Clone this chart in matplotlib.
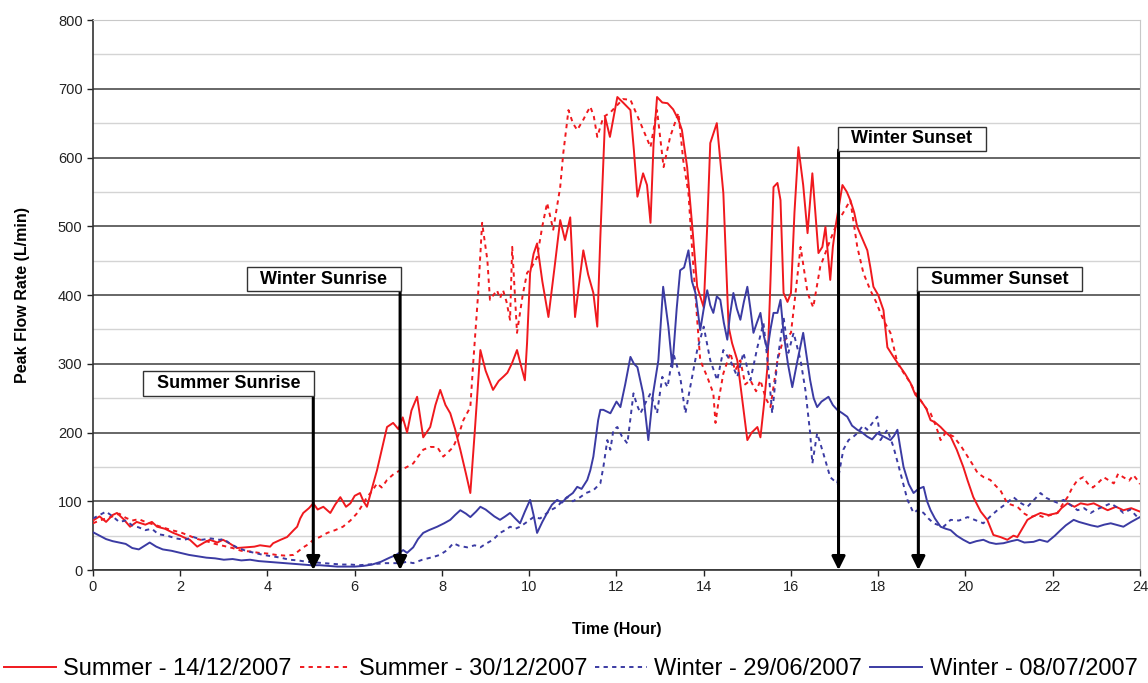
import matplotlib
matplotlib.use("Agg")
import matplotlib.pyplot as plt
from matplotlib.ticker import MultipleLocator

plt.rcParams["font.family"] = ["Liberation Sans", "DejaVu Sans"]

# (hour, peak flow L/min) readings per day
summer_1412 = [
    (0, 72), (0.15, 78), (0.3, 70), (0.45, 80), (0.55, 83), (0.7, 74), (0.85, 63), (1.0, 70),
    (1.2, 66), (1.35, 70), (1.47, 63), (1.65, 60), (1.84, 54), (2.0, 50), (2.1, 47), (2.22, 44),
    (2.39, 34), (2.55, 40), (2.68, 44), (2.85, 40), (2.98, 44), (3.15, 38), (3.3, 32), (3.5, 33),
    (3.7, 34), (3.83, 36), (4.06, 34), (4.13, 39), (4.3, 44), (4.45, 48), (4.6, 58), (4.68, 63),
    (4.75, 75), (4.82, 83), (4.95, 90), (5.05, 97), (5.15, 88), (5.28, 92), (5.44, 83), (5.55, 95),
    (5.67, 106), (5.8, 92), (5.9, 97), (6.0, 108), (6.12, 112), (6.2, 100), (6.28, 92), (6.4, 120),
    (6.51, 145), (6.62, 175), (6.74, 208), (6.88, 214), (7.0, 205), (7.1, 222), (7.2, 200),
    (7.3, 232), (7.43, 252), (7.5, 222), (7.57, 193), (7.73, 208), (7.85, 240), (7.96, 262),
    (8.08, 240), (8.19, 228), (8.3, 205), (8.42, 175), (8.55, 140), (8.65, 112), (8.75, 200),
    (8.88, 320), (9.0, 290), (9.17, 262), (9.3, 275), (9.42, 282), (9.5, 287), (9.6, 300),
    (9.72, 320), (9.8, 300), (9.9, 276), (9.95, 330), (10.02, 432), (10.1, 460), (10.18, 475),
    (10.3, 420), (10.44, 368), (10.58, 440), (10.71, 509), (10.82, 480), (10.94, 513), (11.05, 368),
    (11.15, 420), (11.24, 465), (11.35, 430), (11.47, 403), (11.56, 354), (11.63, 484), (11.74, 659),
    (11.85, 630), (12.02, 688), (12.15, 680), (12.32, 669), (12.4, 610), (12.48, 543), (12.61, 577),
    (12.7, 560), (12.78, 505), (12.85, 620), (12.93, 688), (13.05, 680), (13.17, 679), (13.3, 670),
    (13.42, 655), (13.5, 640), (13.62, 586), (13.75, 490), (13.85, 412), (14.0, 382), (14.08, 500),
    (14.15, 621), (14.3, 650), (14.45, 548), (14.57, 354), (14.65, 330), (14.77, 305), (14.9, 240),
    (15.0, 189), (15.1, 200), (15.23, 208), (15.3, 193), (15.38, 240), (15.46, 295), (15.53, 420),
    (15.6, 557), (15.69, 563), (15.76, 538), (15.83, 403), (15.92, 390), (16.0, 403), (16.08, 520),
    (16.17, 615), (16.28, 560), (16.38, 490), (16.49, 577), (16.63, 461), (16.72, 470), (16.79, 499),
    (16.9, 422), (16.96, 470), (17.02, 499), (17.1, 530), (17.18, 560), (17.28, 550), (17.36, 538),
    (17.45, 520), (17.52, 499), (17.65, 480), (17.75, 465), (17.82, 440), (17.89, 412), (18.0, 400),
    (18.12, 378), (18.21, 324), (18.35, 310), (18.51, 295), (18.62, 285), (18.74, 272), (18.85, 255),
    (18.97, 247), (19.1, 235), (19.2, 218), (19.3, 215), (19.43, 208), (19.55, 200), (19.66, 194),
    (19.8, 175), (19.95, 150), (20.05, 130), (20.18, 106), (20.35, 85), (20.5, 73), (20.64, 51),
    (20.8, 48), (20.96, 44), (21.1, 50), (21.19, 48), (21.3, 60), (21.42, 73), (21.55, 78),
    (21.72, 83), (21.9, 80), (22.11, 83), (22.2, 90), (22.34, 97), (22.5, 92), (22.64, 97),
    (22.8, 95), (22.94, 97), (23.1, 92), (23.26, 87), (23.45, 92), (23.62, 87), (23.8, 90), (24.0, 85),
]

summer_3012 = [
    (0, 68), (0.15, 72), (0.3, 75), (0.45, 78), (0.6, 82), (0.75, 76), (0.9, 72), (1.05, 74),
    (1.2, 70), (1.4, 66), (1.6, 62), (1.8, 58), (2.0, 55), (2.2, 50), (2.4, 45), (2.6, 42),
    (2.8, 38), (3.0, 35), (3.2, 32), (3.4, 28), (3.6, 27), (3.8, 25), (4.0, 24), (4.2, 22),
    (4.4, 21), (4.6, 22), (4.82, 33), (4.95, 38), (5.05, 44), (5.2, 48), (5.37, 54), (5.55, 58),
    (5.73, 63), (5.9, 72), (6.06, 83), (6.18, 95), (6.28, 106), (6.4, 115), (6.51, 126), (6.62, 120),
    (6.74, 131), (6.9, 140), (7.04, 145), (7.2, 150), (7.34, 155), (7.45, 165), (7.57, 175),
    (7.73, 179), (7.89, 179), (8.03, 165), (8.15, 172), (8.26, 179), (8.4, 200), (8.49, 218),
    (8.65, 237), (8.72, 305), (8.83, 403), (8.92, 505), (9.04, 451), (9.1, 393), (9.18, 400),
    (9.26, 407), (9.33, 395), (9.4, 407), (9.48, 390), (9.56, 364), (9.61, 470), (9.72, 345),
    (9.85, 400), (9.95, 432), (10.05, 440), (10.18, 455), (10.3, 500), (10.41, 534), (10.55, 495),
    (10.71, 557), (10.78, 606), (10.9, 669), (11.0, 650), (11.1, 640), (11.24, 655), (11.32, 665),
    (11.4, 674), (11.48, 660), (11.56, 630), (11.7, 659), (11.85, 665), (12.0, 675), (12.15, 685),
    (12.32, 684), (12.45, 665), (12.55, 650), (12.68, 630), (12.78, 615), (12.93, 669), (13.08, 586),
    (13.23, 630), (13.42, 665), (13.53, 596), (13.65, 548), (13.74, 461), (13.85, 364), (13.92, 305),
    (14.08, 281), (14.22, 257), (14.27, 214), (14.35, 250), (14.45, 286), (14.61, 316), (14.72, 290),
    (14.84, 305), (14.95, 270), (15.07, 276), (15.2, 260), (15.3, 276), (15.42, 250), (15.53, 237),
    (15.69, 305), (15.8, 330), (16.0, 345), (16.1, 400), (16.22, 470), (16.38, 403), (16.51, 382),
    (16.67, 441), (16.9, 480), (17.06, 505), (17.2, 520), (17.36, 538), (17.45, 500), (17.52, 470),
    (17.66, 432), (17.82, 407), (17.95, 390), (18.05, 374), (18.15, 360), (18.28, 345), (18.44, 301),
    (18.6, 285), (18.74, 272), (18.85, 258), (18.97, 247), (19.1, 235), (19.2, 228), (19.32, 210),
    (19.43, 189), (19.55, 200), (19.73, 194), (19.9, 180), (20.05, 165), (20.15, 155), (20.28, 141),
    (20.42, 135), (20.57, 131), (20.7, 122), (20.8, 116), (20.96, 97), (21.05, 95), (21.19, 92),
    (21.35, 82), (21.49, 77), (21.65, 80), (21.79, 77), (21.95, 80), (22.11, 83), (22.22, 95),
    (22.34, 106), (22.45, 120), (22.57, 131), (22.7, 135), (22.8, 126), (22.92, 120), (23.03, 126),
    (23.17, 135), (23.3, 130), (23.4, 126), (23.5, 140), (23.62, 135), (23.75, 130), (23.85, 138),
    (23.94, 131), (24.0, 125),
]

winter_2906 = [
    (0, 75), (0.15, 80), (0.3, 85), (0.45, 78), (0.6, 70), (0.75, 72), (0.9, 65), (1.05, 62),
    (1.2, 58), (1.35, 60), (1.5, 52), (1.7, 50), (1.9, 46), (2.1, 44), (2.3, 48), (2.5, 44),
    (2.7, 46), (2.9, 44), (3.0, 45), (3.15, 38), (3.3, 33), (3.5, 28), (3.7, 25), (3.9, 22),
    (4.1, 20), (4.3, 18), (4.5, 15), (4.7, 14), (4.9, 12), (5.1, 11), (5.3, 10), (5.5, 9),
    (5.7, 8), (5.9, 8), (6.1, 7), (6.3, 8), (6.5, 9), (6.7, 10), (6.9, 10), (7.04, 10),
    (7.2, 12), (7.34, 10), (7.55, 15), (7.8, 19), (7.95, 22), (8.12, 29), (8.26, 39), (8.4, 35),
    (8.58, 33), (8.75, 36), (8.88, 33), (9.0, 38), (9.17, 44), (9.33, 54), (9.45, 58), (9.56, 63),
    (9.68, 60), (9.79, 63), (9.95, 70), (10.1, 77), (10.25, 75), (10.41, 83), (10.52, 88),
    (10.64, 92), (10.75, 100), (10.87, 106), (11.0, 100), (11.17, 106), (11.3, 112), (11.47, 116),
    (11.63, 126), (11.7, 150), (11.79, 189), (11.86, 175), (11.93, 204), (12.02, 208), (12.12, 195),
    (12.25, 184), (12.39, 257), (12.47, 240), (12.55, 228), (12.68, 245), (12.78, 257), (12.93, 228),
    (13.05, 281), (13.17, 266), (13.3, 316), (13.46, 281), (13.58, 228), (13.69, 266), (13.85, 320),
    (14.0, 354), (14.15, 305), (14.31, 276), (14.45, 320), (14.61, 305), (14.77, 281), (14.91, 316),
    (15.07, 276), (15.23, 324), (15.37, 359), (15.47, 300), (15.57, 228), (15.69, 305), (15.76, 335),
    (15.83, 368), (15.94, 316), (16.06, 345), (16.22, 305), (16.33, 262), (16.44, 199), (16.49, 155),
    (16.6, 199), (16.74, 170), (16.9, 135), (17.06, 126), (17.2, 175), (17.32, 189), (17.45, 195),
    (17.52, 199), (17.65, 210), (17.75, 204), (17.88, 215), (17.98, 223), (18.05, 189), (18.21, 204),
    (18.35, 179), (18.51, 141), (18.67, 102), (18.81, 83), (18.92, 88), (19.04, 83), (19.15, 75),
    (19.27, 68), (19.4, 65), (19.5, 63), (19.66, 73), (19.85, 72), (20.05, 77), (20.25, 72),
    (20.41, 68), (20.57, 78), (20.73, 87), (20.9, 95), (21.1, 106), (21.25, 98), (21.42, 92),
    (21.57, 102), (21.72, 112), (21.85, 105), (21.95, 102), (22.1, 98), (22.25, 102), (22.4, 95),
    (22.57, 87), (22.72, 90), (22.87, 83), (23.0, 88), (23.15, 92), (23.33, 97), (23.5, 90),
    (23.62, 83), (23.78, 88), (23.94, 77), (24.0, 80),
]

winter_0807 = [
    (0, 55), (0.15, 50), (0.3, 45), (0.45, 42), (0.6, 40), (0.75, 38), (0.9, 32), (1.05, 30),
    (1.2, 36), (1.3, 40), (1.45, 34), (1.6, 30), (1.8, 28), (2.0, 25), (2.2, 22), (2.4, 20),
    (2.6, 18), (2.8, 17), (3.0, 15), (3.2, 16), (3.4, 14), (3.6, 15), (3.8, 13), (4.0, 12),
    (4.2, 11), (4.4, 10), (4.6, 9), (4.8, 8), (5.0, 7), (5.2, 7), (5.4, 6), (5.6, 5), (5.8, 5),
    (6.0, 5), (6.2, 6), (6.4, 8), (6.6, 12), (6.8, 18), (6.95, 22), (7.11, 29), (7.2, 25),
    (7.34, 33), (7.45, 45), (7.57, 54), (7.7, 58), (7.89, 63), (8.05, 68), (8.19, 73), (8.3, 80),
    (8.42, 87), (8.55, 82), (8.65, 77), (8.78, 85), (8.88, 92), (9.0, 88), (9.1, 83), (9.2, 78),
    (9.33, 73), (9.45, 78), (9.56, 83), (9.68, 75), (9.79, 68), (9.9, 85), (10.02, 102), (10.1, 80),
    (10.18, 54), (10.3, 70), (10.41, 83), (10.52, 95), (10.64, 102), (10.75, 98), (10.87, 106),
    (11.0, 112), (11.1, 121), (11.2, 118), (11.33, 131), (11.4, 145), (11.47, 165), (11.58, 218),
    (11.63, 233), (11.7, 233), (11.86, 228), (12.0, 245), (12.09, 237), (12.2, 270), (12.32, 310),
    (12.4, 300), (12.48, 295), (12.61, 257), (12.73, 189), (12.84, 257), (12.96, 305), (13.07, 412),
    (13.19, 354), (13.28, 295), (13.38, 380), (13.46, 436), (13.55, 440), (13.65, 465), (13.73, 420),
    (13.81, 403), (13.92, 349), (14.0, 380), (14.08, 407), (14.15, 385), (14.22, 374), (14.3, 398),
    (14.38, 393), (14.46, 360), (14.54, 335), (14.6, 370), (14.68, 403), (14.76, 380), (14.84, 364),
    (14.92, 390), (15.0, 412), (15.07, 380), (15.14, 345), (15.22, 360), (15.3, 374), (15.38, 340),
    (15.46, 320), (15.53, 350), (15.6, 374), (15.69, 374), (15.76, 393), (15.83, 345), (15.93, 300),
    (16.03, 266), (16.15, 305), (16.28, 345), (16.36, 310), (16.44, 276), (16.52, 250), (16.6, 237),
    (16.7, 245), (16.86, 252), (16.96, 240), (17.06, 233), (17.18, 228), (17.29, 223), (17.4, 210),
    (17.52, 204), (17.63, 200), (17.75, 194), (17.86, 190), (17.98, 199), (18.1, 195), (18.28, 189),
    (18.36, 195), (18.44, 204), (18.5, 180), (18.58, 150), (18.7, 125), (18.81, 112), (18.92, 118),
    (19.04, 121), (19.12, 100), (19.2, 87), (19.3, 75), (19.43, 63), (19.55, 60), (19.66, 58),
    (19.8, 50), (19.95, 44), (20.1, 39), (20.25, 42), (20.41, 44), (20.55, 40), (20.7, 38),
    (20.87, 39), (21.05, 42), (21.19, 44), (21.35, 40), (21.56, 41), (21.7, 44), (21.88, 41),
    (22.05, 50), (22.18, 58), (22.3, 65), (22.48, 73), (22.6, 70), (22.71, 68), (22.88, 65),
    (23.03, 63), (23.18, 66), (23.33, 68), (23.5, 65), (23.62, 63), (23.8, 70), (24.0, 77),
]

# sunrise / sunset markers: (label, hour, top of arrow in L/min, box side)
events = [
    ("Summer Sunrise", 5.05, 255, "left"),
    ("Winter Sunrise", 7.04, 407, "left"),
    ("Winter Sunset", 17.09, 611, "right"),
    ("Summer Sunset", 18.92, 407, "right"),
]

RED = "#f0191e"
BLUE = "#3b3ba3"
SERIES = [
    (summer_1412, "Summer - 14/12/2007", {"color": RED, "ls": "-"}),
    (summer_3012, "Summer - 30/12/2007", {"color": RED, "ls": (0, (2.2, 2.2))}),
    (winter_2906, "Winter - 29/06/2007", {"color": BLUE, "ls": (0, (2.2, 2.2))}),
    (winter_0807, "Winter - 08/07/2007", {"color": BLUE, "ls": "-"}),
]

fig = plt.figure(figsize=(11.48, 6.83), dpi=100)
ax = fig.add_axes([0.081, 0.1654, 0.912, 0.8053])

for data, label, style in SERIES:
    xs = [p[0] for p in data]
    ys = [p[1] for p in data]
    ax.plot(xs, ys, label=label, lw=1.4, zorder=3, **style)

ax.set_xlim(0, 24)
ax.set_ylim(0, 800)
ax.xaxis.set_major_locator(MultipleLocator(2))
ax.yaxis.set_major_locator(MultipleLocator(100))
ax.yaxis.set_minor_locator(MultipleLocator(50))
ax.grid(True, which="major", axis="y", color="#5a5a5a", lw=1.3, zorder=1)
ax.grid(True, which="minor", axis="y", color="#d4d4d4", lw=1.0, zorder=1)
ax.tick_params(axis="both", which="major", labelsize=10.5, colors="#222222",
               length=4, width=1, direction="out")
ax.tick_params(axis="y", which="minor", length=0)
for side in ("top", "right"):
    ax.spines[side].set_color("#c8c8c8")
for side in ("left", "bottom"):
    ax.spines[side].set_color("#333333")
    ax.spines[side].set_linewidth(1.2)

ax.set_xlabel("Time (Hour)", fontsize=11.5, fontweight="bold", labelpad=20)
ax.set_ylabel("Peak Flow Rate (L/min)", fontsize=11.5, fontweight="bold", labelpad=20)

fs = 13
pad = 0.15 * fs
for text, hour, top, side in events:
    ax.annotate("", xy=(hour, 0), xytext=(hour, top),
                arrowprops=dict(arrowstyle="-|>", color="black", lw=2.2,
                                mutation_scale=20, shrinkA=0, shrinkB=0),
                zorder=6)
    if side == "left":
        off, ha = (-pad, pad), "right"
    else:
        off, ha = (pad, pad), "left"
    ax.annotate("  " + text + "  ", xy=(hour, top), xytext=off, textcoords="offset points",
                ha=ha, va="bottom", fontsize=fs, fontweight="bold", zorder=7,
                bbox=dict(boxstyle="square,pad=0.2", fc="white", ec="#333333", lw=1))

handles, labels = ax.get_legend_handles_labels()
fig.legend(handles, labels, loc="lower center", bbox_to_anchor=(0.497, -0.017), ncol=4,
           frameon=False, fontsize=17, handlelength=2.2, handletextpad=0.3,
           columnspacing=0.35, borderaxespad=0.2)

fig.savefig("out.png", dpi=100)
